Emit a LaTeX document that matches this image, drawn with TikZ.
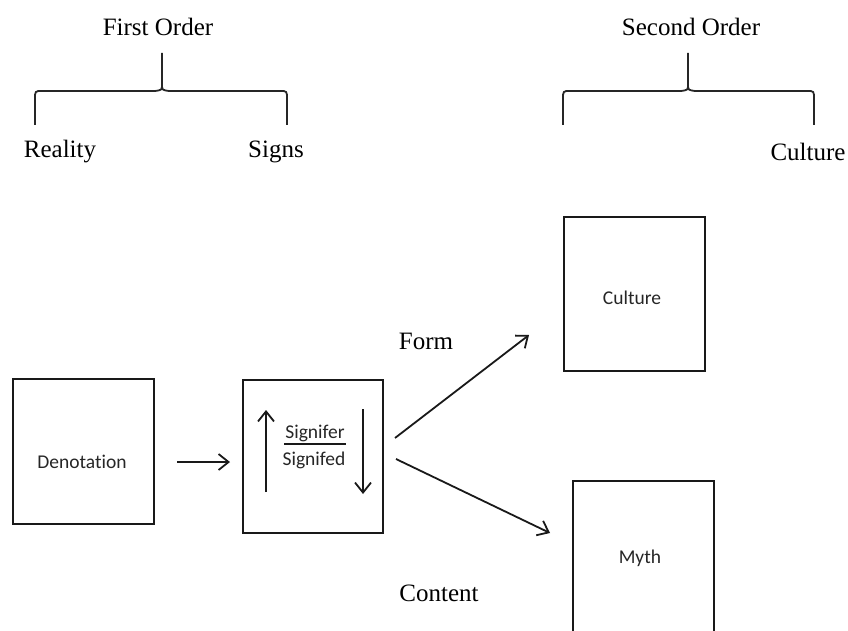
\documentclass[tikz,border=0pt]{standalone}
\usepackage{fontspec}
\setmainfont{Liberation Serif}
\newfontfamily\boxfont[Ligatures=NoCommon]{Carlito}
\usetikzlibrary{arrows.meta}
\begin{document}
\begin{tikzpicture}[x=1pt,y=-1pt,
  line width=1.8pt,
  lbl/.style={font=\fontsize{25}{27}\selectfont, inner sep=0pt, text=black},
  btxt/.style={font=\boxfont\fontsize{19.5}{21}\selectfont, inner sep=0pt, text=black!85},
  sqbox/.style={draw=black!90, rectangle, inner sep=0pt},
  arr/.style={black!90, -{Straight Barb[length=10pt,width=16pt,line width=1.8pt]}},
  brace/.style={line width=1.8pt, black!85}
]
\useasboundingbox (0,0) rectangle (848,631);

% top labels
\node[lbl] (first) at (158,27) {First Order};
\node[lbl] (second) at (691,27) {Second Order};
\node[lbl] (reality) at (60,152) {Reality};
\node[lbl] (signs) at (276,152) {Signs};
\node[lbl] (culturelbl) at (808,152) {Culture};

% braces
\draw[brace] (162,53) -- (162,84) .. controls (162,90) .. (155,91) -- (42,91)
  .. controls (35,91) .. (35,99) -- (35,125);
\draw[brace] (162,84) .. controls (162,90) .. (169,91) -- (280,91)
  .. controls (287,91) .. (287,99) -- (287,125);
\draw[brace] (688,53) -- (688,84) .. controls (688,90) .. (681,91) -- (570,91)
  .. controls (563,91) .. (563,99) -- (563,125);
\draw[brace] (688,84) .. controls (688,90) .. (695,91) -- (807,91)
  .. controls (814,91) .. (814,99) -- (814,125);

% boxes
\node[sqbox, minimum width=141pt, minimum height=145pt] (den) at (83.5,451.5) {};
\node[btxt] (dentxt) at (82,462) {Denotation};

\node[sqbox, minimum width=140pt, minimum height=153pt] (sig) at (313,456.5) {};
\node[btxt] (sigtop) at (315,433) {Signifer};
\node[btxt] (sigbot) at (314,460) {Signifed};
\draw[line width=2pt, black!90] (sigtop.south west) ++(0,2) coordinate (ulA) -- (ulA -| sigtop.south east);

\node[sqbox, minimum width=141pt, minimum height=154pt] (cult) at (634.5,294) {};
\node[btxt] (culttxt) at (632,298) {Culture};

\coordinate (mythnw) at (573,481);
\coordinate (mythne) at (714,481);
\coordinate (mythsw) at (573,631);
\coordinate (mythse) at (714,631);
\draw[black!90] (mythsw) -- (mythnw) -- (mythne) -- (mythse);
\node[btxt] (myth) at (640,558) {Myth};

% side labels
\node[lbl] (form) at (426,341) {Form};
\node[lbl] (content) at (439,593) {Content};

% arrows
\coordinate (a1s) at (177,462);
\coordinate (a1e) at (230,462);
\draw[arr] (a1s) -- (a1e);

\coordinate (ups) at (266,492);
\coordinate (upe) at (266,410);
\draw[arr] (ups) -- (upe);
\coordinate (dns) at (363,409);
\coordinate (dne) at (363,494);
\draw[arr] (dns) -- (dne);

\coordinate (fs) at (395,438);
\coordinate (fe) at (529,335);
\draw[arr] (fs) -- (fe);
\coordinate (cs) at (396,459);
\coordinate (ce) at (550,533);
\draw[arr] (cs) -- (ce);
\end{tikzpicture}
\end{document}
